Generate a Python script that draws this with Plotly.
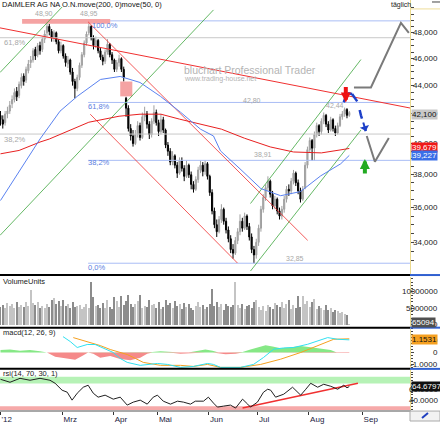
import math
import numpy as np
import plotly.graph_objects as go

# ---------------- data ----------------
day_index = list(range(151))
opens = [41.9,41.6,41.4,42.0,42.2,42.7,43.0,43.6,43.3,44.0,44.7,44.4,45.1,45.7,45.9,46.7,46.3,47.0,46.7,47.5,
         48.0,48.5,48.1,47.6,48.0,47.3,46.6,47.0,46.2,45.6,45.9,45.0,44.3,43.8,44.6,45.5,46.3,47.2,48.0,48.5,
         47.6,47.0,47.4,46.6,46.1,45.8,46.5,47.1,46.3,45.9,45.2,45.7,46.0,45.2,43.1,42.4,41.0,40.5,40.0,40.6,
         41.2,40.4,41.8,42.0,41.3,40.6,41.5,42.1,41.4,40.8,41.6,40.9,39.9,39.5,38.8,39.2,38.6,38.1,38.9,38.4,
         37.9,38.6,38.0,37.4,37.1,37.7,38.3,38.6,38.2,38.7,37.9,36.9,35.8,35.0,34.6,35.3,35.9,35.2,34.7,34.2,
         33.6,33.4,34.1,34.6,35.2,34.8,35.5,34.9,34.3,33.6,33.3,34.0,34.8,35.9,36.6,37.2,37.6,36.8,36.1,36.5,
         35.8,35.5,35.9,36.5,37.1,37.0,37.6,38.1,37.5,37.0,36.5,37.2,38.6,39.6,40.2,39.7,40.6,41.2,40.8,41.5,
         41.9,41.3,40.9,41.6,41.0,40.7,41.2,41.8,42.0,42.3,41.9]
highs = [42.2,41.9,42.2,42.5,42.9,43.3,43.8,43.9,44.3,44.9,44.9,45.4,45.9,46.2,46.8,46.9,47.2,47.3,47.7,48.2,
         48.9,48.7,48.3,48.2,48.1,47.5,47.3,47.1,46.4,46.2,46.0,45.3,44.5,44.8,45.7,46.5,47.4,48.1,48.95,48.6,
         47.8,47.7,47.5,46.8,46.3,46.7,47.5,47.2,46.5,46.0,45.9,46.3,46.1,45.4,43.2,42.6,41.3,40.9,40.9,41.5,
         41.4,42.1,42.5,42.2,41.5,41.7,42.6,42.3,41.6,42.0,41.8,41.0,40.1,39.7,39.5,39.3,38.8,39.1,39.1,38.6,
         38.9,38.7,38.2,37.6,37.9,38.5,38.9,38.8,38.9,38.8,38.0,37.1,36.0,35.3,35.5,36.2,36.0,35.4,34.9,34.4,
         33.9,34.3,34.8,35.6,35.4,35.7,35.6,35.1,34.5,33.8,34.2,35.0,36.1,36.8,37.4,37.9,37.7,37.0,36.7,36.6,
         36.0,36.1,36.7,37.3,37.4,37.8,38.3,38.2,37.7,37.2,37.3,38.8,39.8,40.4,40.3,40.8,41.4,41.3,41.7,42.1,
         42.0,41.5,41.8,41.7,41.2,41.4,42.0,42.2,42.44,42.4,42.2]
lows = [41.2,41.0,41.2,41.7,42.0,42.4,42.8,42.9,43.1,43.8,44.0,44.2,44.9,45.3,45.7,45.9,46.1,46.3,46.5,47.2,
        47.7,47.8,47.3,47.3,47.1,46.4,46.4,46.0,45.4,45.3,44.8,44.0,43.1,43.6,44.4,45.3,46.1,47.0,47.8,47.4,
        46.7,46.8,46.4,45.9,45.5,45.6,46.3,46.1,45.6,45.0,45.0,45.4,45.0,44.3,41.8,40.8,40.2,39.8,39.9,40.4,
        40.2,40.3,41.5,41.0,40.3,40.4,41.3,41.2,40.5,40.6,40.7,39.7,39.2,38.6,38.6,38.4,37.8,38.0,38.2,37.6,
        37.8,37.8,37.1,36.9,37.0,37.5,38.1,37.9,38.0,37.7,36.7,35.6,34.8,34.3,34.5,35.1,35.0,34.5,34.0,33.4,
        33.1,33.3,33.9,34.4,34.6,34.7,34.7,34.1,33.4,32.85,33.1,33.8,34.6,35.7,36.4,37.0,36.6,35.9,35.9,35.6,
        35.3,35.3,35.7,36.3,36.7,36.8,37.4,37.3,36.8,36.3,36.4,37.1,38.4,39.4,38.9,38.9,40.4,40.5,40.6,41.3,
        41.1,40.7,40.8,40.8,40.5,40.6,41.1,41.6,41.8,41.7,41.8]
closes = [41.6,41.3,42.0,42.2,42.6,43.0,43.5,43.2,44.1,44.6,44.3,45.2,45.6,45.9,46.6,46.2,47.0,46.6,47.5,47.9,
          48.5,48.1,47.6,48.0,47.3,46.6,47.0,46.2,45.7,45.9,45.0,44.3,43.8,44.6,45.5,46.3,47.2,47.9,48.5,47.6,
          47.0,47.4,46.6,46.1,45.8,46.5,47.1,46.3,45.9,45.2,45.7,46.0,45.2,44.6,42.4,41.0,40.5,40.0,40.6,41.2,
          40.4,41.8,42.0,41.3,40.6,41.5,42.1,41.4,40.8,41.6,40.9,39.9,39.5,38.8,39.2,38.6,38.1,38.9,38.4,37.9,
          38.6,38.0,37.4,37.1,37.7,38.3,38.6,38.2,38.7,37.9,36.9,35.8,35.0,34.6,35.3,35.9,35.2,34.7,34.2,33.6,
          33.4,34.1,34.6,35.2,34.8,35.5,34.9,34.3,33.6,33.3,34.0,34.8,35.9,36.6,37.2,37.6,36.8,36.1,36.5,35.8,
          35.5,35.9,36.5,37.1,37.0,37.6,38.1,37.5,37.0,36.5,37.1,38.6,39.6,40.2,39.7,40.6,41.2,40.8,41.5,41.9,
          41.3,40.9,41.6,41.0,40.7,41.2,41.8,42.0,42.3,41.9,42.1]
volume_mio = [5.5,6.0,5.2,6.5,5.8,6.2, 5.0,6.8,5.5,6.1,5.3,7.0,5.8, 10.5, 6.5,5.9,6.8,5.2,5.6,5.0,6.3,
              5.5,7.6,8.0,6.2,7.2,5.7,7.4, 5.8,6.3,5.2,6.9,5.3,5.8, 6.0,4.9,5.5,6.4,5.0, 13.0,
              8.3,5.6,6.0,5.1,6.6, 5.0,7.4,5.4,4.9,8.4,7.2, 5.3,8.6,6.0,7.1,9.0, 6.4,5.4,6.2,7.3,9.2,
              5.1,5.6,5.3,7.4,5.9,6.3, 5.2,6.8,4.8,5.5,7.6,6.0, 6.5,5.0,7.2,5.7,6.4,4.9,
              6.6,5.5,6.2,5.2,4.6,5.8, 6.9,5.4,6.1,4.9,5.3,6.4, 11.0, 5.6,6.8,5.5,6.4,4.6,
              6.2,5.7,5.3,6.0, 13.0, 6.0,5.2,6.4,4.9,5.6,6.1,5.0, 6.8,7.4,5.3,4.5,5.8,4.3,6.1,
              5.5,4.8,6.6,5.9,5.4,7.0,5.1, 6.3,7.6,4.7,6.0,5.2, 8.6, 5.3,8.7,6.4, 7.1,5.4,6.9,7.8,4.9,5.6,
              5.2,4.5,6.0,4.4,5.0,3.8,4.6, 4.2,3.5,4.0,3.3,3.1, 0.065]

ma200_idx = [0, 8, 17, 21, 38, 51, 60, 69, 77, 86, 95, 105, 116, 126, 138, 146, 150]
ma200_val = [39.33, 39.55, 40.10, 40.30, 41.43, 41.84, 41.98, 41.98, 41.64, 41.30, 40.96, 40.35, 39.78, 39.45, 39.39, 39.58, 39.68]
ma50_idx = [0, 8.4, 17, 25.6, 33, 43, 51.5, 60, 68.8, 77.4, 86, 91.6, 94.6, 103, 112, 120.5, 129, 137.7, 146.3, 150]
ma50_val = [36.42, 38.31, 40.30, 42.19, 43.23, 44.45, 44.67, 44.23, 43.23, 42.12, 40.96, 40.50, 39.52, 38.37, 37.14, 36.71, 36.96, 37.93, 38.69, 39.23]

macd_idx = [26.9, 30, 33, 37.3, 40.7, 45, 48.5, 51.5, 54.5, 60.1, 64.4, 67.5, 71.8, 77.4, 83, 89, 91.6, 94.6, 103.2,
            108.8, 113.1, 117.5, 121.8, 126.1, 132.1, 136.4, 140.7, 145, 150]
macd_val = [1.33, 0.92, 0.42, 0.67, 0.67, 0.33, 0.0, -0.5, -0.83, -1.08, -1.0, -0.92, -1.0, -1.25, -1.17, -0.92, -1.0,
            -1.25, -1.25, -1.0, -0.42, 0.28, 0.38, 0.42, 0.69, 1.0, 1.25, 1.11, 1.06]
signal_idx = [31.3, 34.3, 38.6, 42.9, 47.2, 51.5, 54.5, 58, 61.4, 68.8, 77.4, 83, 89, 94.6, 103.2, 111.9, 120.5, 129.1,
              136.4, 143.3, 150]
signal_val = [1.25, 1.08, 0.83, 0.58, 0.25, 0.0, -0.17, -0.5, -0.83, -1.08, -1.08, -1.17, -1.0, -1.25, -1.25, -1.0,
              -0.56, 0.0, 0.58, 1.11, 1.15]
hist_idx = [0, 4.1, 8.4, 12.7, 17, 20, 23.5, 27.8, 32.1, 35.1, 37.7, 39.9, 42.9, 47.2, 51.5, 55.8, 60.1, 63.1, 65.3,
            68.8, 72.2, 74.4, 77.4, 80.8, 83.8, 88.1, 91.2, 93.8, 96.8, 101.1, 104.1, 107.5, 111, 114, 117, 120.5,
            124.8, 129.1, 133.4, 137.7, 142, 144.6, 147.2, 150]
hist_val = [0.2, 0.25, 0.15, 0.2, 0.1, 0.0, -0.35, -0.45, -0.6, -0.3, 0.0, -0.1, -0.45, -0.3, -0.55, -0.65, -0.45, -0.1,
            0.05, 0.1, 0.05, -0.05, -0.1, -0.05, 0.1, 0.25, 0.15, -0.05, -0.15, -0.1, 0.05, 0.25, 0.45, 0.6, 0.5,
            0.35, 0.45, 0.55, 0.45, 0.35, 0.2, 0.0, -0.05, -0.05]

rsi_idx = [0, 4.1, 8.4, 12.7, 17, 21.3, 23.5, 26.5, 28.7, 30.8, 33, 35.6, 37.7, 39.9, 42, 45, 48.5, 51.5, 54.5, 57.1,
           60.1, 63.1, 65.7, 67.5, 70, 73.1, 76.1, 78.7, 81.7, 83.8, 87.3, 89.4, 91.6, 93.3, 95.9, 98.9, 101.1, 103.2,
           104.1, 106.3, 107.5, 110.5, 113.1, 114.9, 116.2, 118.3, 121.8, 125.6, 129.1, 131.3, 133.4, 136.4, 139,
           142, 145, 147.6, 149, 150]
rsi_val = [77.4, 72.2, 79.1, 75.7, 79.1, 75.7, 70.4, 58.3, 54.8, 40.9, 53.0, 63.5, 67.0, 53.0, 46.1, 49.6, 42.6, 46.1,
           32.2, 37.4, 40.9, 33.9, 46.1, 49.6, 39.1, 33.9, 39.1, 37.4, 33.9, 39.1, 39.1, 46.1, 35.7, 28.7, 30.4, 32.2,
           27.0, 37.4, 42.6, 33.9, 28.7, 37.4, 54.8, 60.0, 58.3, 46.1, 51.3, 63.5, 49.6, 60.0, 70.4, 63.5, 68.7, 65.2,
           60.0, 67.0, 62.5, 64.68]

# drawings (trend lines, fibonacci, projections) as (index, price) pairs
red_trend_idx, red_trend_val = [-0.2, 176.1], [48.39, 42.41]
red_ch_up_idx, red_ch_up_val = [37.7, 132.1], [48.87, 34.11]
red_ch_lo_idx, red_ch_lo_val = [38.6, 101.9], [41.98, 32.86]
green_long_idx, green_long_val = [-0.2, 91.6], [34.39, 49.84]
green_left_idx, green_left_val = [-0.2, 26.5], [44.96, 50.08]
green_up_idx, green_up_val = [107.5, 155], [36.24, 45.93]
green_lo_idx, green_lo_val = [107.5, 155], [32.43, 40.90]
fib_blue_levels = [48.95, 42.80, 38.91, 32.85]
fib_blue_labels = ["100,0%", "61,8%", "38,2%", "0,0%"]
fib_blue_start = 37.7
fib_gray_levels = [47.61, 40.63]
fib_gray_labels = ["61,8%", "38,2%"]
price_notes = ["48,90", "48,95", "42,80", "42,44", "38,91", "32,85"]
zone1_idx, zone1_val = [9.3, 47.2], [48.71, 49.11]
zone2_idx, zone2_val = [51.5, 56.7], [43.23, 44.30]
proj_solid_idx = [147.6, 148.5, 149.8, 151.2]
proj_solid_val = [42.81, 43.2, 43.45, 43.4]
proj_dash_idx = [151.2, 152.5, 153.7, 155, 156.2, 157.1]
proj_dash_val = [43.4, 43.1, 42.8, 41.9, 41.3, 40.83]
zig_idx, zig_val = [152, 159.3, 172.2, 175.6], [43.87, 43.87, 48.79, 48.0]
vee_idx, vee_val = [157.5, 161, 167], [40.5, 38.82, 40.37]
red_arrow_idx, red_arrow_val = 148.5, 42.8
green_arrow_idx, green_arrow_val = 156.7, 39.0

rsi_trend_idx, rsi_trend_val = [104.1, 153.7], [27.0, 70.4]

month_ticks = [-0.2, 26.5, 48.5, 67.5, 89.5, 110.5, 132.5, 155.5]
month_labels = ["'12", "Mrz", "Apr", "Mai", "Jun", "Jul", "Aug", "Sep"]
price_ticks = [34, 36, 38, 40, 42, 44, 46, 48]
price_tick_labels = ["34,000", "36,000", "38,000", "40,000", "42,000", "44,000", "46,000", "48,000"]
volume_ticks, volume_tick_labels = [0, 5, 10], ["0", "5000000", "10000000"]
macd_ticks, macd_tick_labels = [-1, 0, 1], ["-1.0000", "0", "1.0000"]
rsi_ticks, rsi_tick_labels = [40, 60], ["40.0000", "60.0000"]
last_close, last_ma200, last_ma50 = "42,100", "39,679", "39,227"
last_volume, last_signal, last_rsi = "65094", "1.1531", "64.6797"

# ---------------- layout helpers ----------------
W, H = 440, 424
XR = 410 / W
FONT = "Liberation Sans, Arial, sans-serif"


def py(p):
    return 1 - p / H


def px(p):
    return p / W


fig = go.Figure()


def line(xs, ys, color, width=1, dash=None, yaxis='y'):
    fig.add_trace(go.Scatter(x=xs, y=ys, mode='lines', yaxis=yaxis,
                             line=dict(color=color, width=width, dash=dash),
                             hoverinfo='skip', showlegend=False))


# gray fibonacci
for lv in fib_gray_levels:
    line([-0.2, 176.1], [lv, lv], '#c8c8c8', 1)
# blue fibonacci
for lv in fib_blue_levels:
    line([fib_blue_start, 176.1], [lv, lv], '#a9bdf5', 1)

# pink zones
for zx, zv in [(zone1_idx, zone1_val), (zone2_idx, zone2_val)]:
    fig.add_trace(go.Scatter(x=[zx[0], zx[1], zx[1], zx[0], zx[0]], y=[zv[0], zv[0], zv[1], zv[1], zv[0]],
                             fill='toself', fillcolor='#f5a3a3', line=dict(width=0), mode='lines',
                             hoverinfo='skip', showlegend=False))

line(green_long_idx, green_long_val, '#3da63d', 0.8)
line(green_left_idx, green_left_val, '#3da63d', 0.8)
line(green_up_idx, green_up_val, '#3da63d', 0.8)
line(green_lo_idx, green_lo_val, '#3da63d', 0.8)
line(red_trend_idx, red_trend_val, '#f03030', 1)
line(red_ch_up_idx, red_ch_up_val, '#f03030', 0.8)
line(red_ch_lo_idx, red_ch_lo_val, '#f03030', 0.8)

line(ma200_idx, ma200_val, '#e82020', 1)
line(ma50_idx, ma50_val, '#5a82f0', 1)

fig.add_trace(go.Candlestick(
    x=day_index, open=opens, high=highs, low=lows, close=closes,
    increasing=dict(line=dict(color='#a0a0a0', width=1), fillcolor='#aaaaaa'),
    decreasing=dict(line=dict(color='#000000', width=1), fillcolor='#000000'),
    whiskerwidth=0, hoverinfo='skip', showlegend=False))

# projections
line(zig_idx, zig_val, '#7a7a7a', 2)
line(vee_idx, vee_val, '#7a7a7a', 2)
line(proj_solid_idx, proj_solid_val, '#1c3fc8', 2.5)
line(proj_dash_idx, proj_dash_val, '#1c3fc8', 2.5, dash='dash')

# volume
vol_colors = ['#c4c4c4' if c >= o else '#8c8c8c' for o, c in zip(opens, closes)]
fig.add_trace(go.Bar(x=day_index, y=volume_mio, yaxis='y2', marker=dict(color=vol_colors, line=dict(width=0)),
                     width=0.45, hoverinfo='skip', showlegend=False))

# macd
hv = np.array(hist_val)
fig.add_trace(go.Scatter(x=hist_idx, y=np.clip(hv, 0, None), yaxis='y3', mode='lines', fill='tozeroy',
                         fillcolor='#86e886', line=dict(width=0), hoverinfo='skip', showlegend=False))
fig.add_trace(go.Scatter(x=hist_idx, y=np.clip(hv, None, 0), yaxis='y3', mode='lines', fill='tozeroy',
                         fillcolor='#f58a8a', line=dict(width=0), hoverinfo='skip', showlegend=False))
line(signal_idx, signal_val, '#f5a020', 1, yaxis='y3')
line(macd_idx, macd_val, '#30e0f0', 1, yaxis='y3')

# rsi
line(rsi_trend_idx, rsi_trend_val, '#f03030', 1.5, yaxis='y4')
line(rsi_idx, rsi_val, '#202020', 1, yaxis='y4')

shapes = []
# rsi bands
shapes.append(dict(type='rect', xref='x domain', yref='y4', x0=0, x1=1, y0=70, y1=82,
                   fillcolor='#b6f2b6', line=dict(width=0), layer='below'))
shapes.append(dict(type='rect', xref='x domain', yref='y4', x0=0, x1=1, y0=23.48, y1=30,
                   fillcolor='#f6a9a9', line=dict(width=0), layer='below'))
# panel separators
for yy in [277, 330, 371.5]:
    shapes.append(dict(type='line', xref='paper', yref='paper', x0=0, x1=XR, y0=py(yy), y1=py(yy),
                       line=dict(color='#000000', width=2)))
    shapes.append(dict(type='line', xref='paper', yref='paper', x0=XR, x1=1, y0=py(yy), y1=py(yy),
                       line=dict(color='#3060d0', width=2)))
# top header line / right box
shapes.append(dict(type='line', xref='paper', yref='paper', x0=px(410), x1=1, y0=py(9), y1=py(9),
                   line=dict(color='#eedd99', width=1)))
shapes.append(dict(type='line', xref='paper', yref='paper', x0=px(432), x1=1, y0=py(2), y1=py(2),
                   line=dict(color='#444', width=1)))
# bottom icon box
shapes.append(dict(type='rect', xref='paper', yref='paper', x0=px(410), x1=1, y0=0, y1=py(414),
                   fillcolor='#f2f2f2', line=dict(color='#aaaaaa', width=1)))
shapes.append(dict(type='line', xref='paper', yref='paper', x0=px(422), x1=px(428), y0=py(421), y1=py(416),
                   line=dict(color='#2040c0', width=2)))

ann = []


def text(s, x, y, color='#222', size=8, xanchor='left', bg=None, fcolor=None):
    ann.append(dict(text=s, xref='paper', yref='paper', x=px(x), y=py(y), xanchor=xanchor, yanchor='middle',
                    showarrow=False, font=dict(family=FONT, size=size, color=fcolor or color),
                    bgcolor=bg, borderpad=0))


text("DAIMLER AG NA O.N.move(200, 0)move(50, 0)", 1, 4.5, '#111', 7.5)
text("täglich", 390, 5, '#222', 7)
text("VolumeUnits", 2, 284, '#222', 7.5)
text("macd(12, 26, 9)", 2, 335, '#222', 7.5)
text("rsi(14, 70, 30, 1)", 2, 376.5, '#222', 7.5)
text("bluchart Professional Trader", 183, 70, '#b4b4b4', 10.5)
text("www.trading-house.net", 183, 80, '#b4b4b4', 7)

note_pos = [(34, 14), (79, 13.5), (242, 101), (325, 106), (253, 156), (285, 260)]
for s, (xx, yy) in zip(price_notes, note_pos):
    text(s, xx, yy, '#a8a8a8', 7)
blue_lab_pos = [(91, 26), (87, 107), (87, 164), (87, 269)]
for s, (xx, yy) in zip(fib_blue_labels, blue_lab_pos):
    text(s, xx, yy, '#5a7ee0', 7.5)
gray_lab_pos = [(3, 43), (3, 140)]
for s, (xx, yy) in zip(fib_gray_labels, gray_lab_pos):
    text(s, xx, yy, '#a8a8a8', 7.5)

# right-aligned axis labels (drawn before the value boxes, which cover some of them)
tick_font = dict(family=FONT, size=8, color='#222')
for v, s in zip(price_ticks, price_tick_labels):
    ann.append(dict(text=s, xref='paper', yref='y', x=1, y=math.log10(v), xanchor='right', yanchor='middle',
                    showarrow=False, font=tick_font))
for ax_name, vals, labs in [('y2', volume_ticks, volume_tick_labels), ('y3', macd_ticks, macd_tick_labels),
                            ('y4', rsi_ticks, rsi_tick_labels)]:
    for v, s in zip(vals, labs):
        ann.append(dict(text=s, xref='paper', yref=ax_name, x=1, y=v, xanchor='right', yanchor='middle',
                        showarrow=False, font=tick_font))

# value boxes on the right axis
text(last_close, 410.5, 115.5, bg='#c8c8c8', fcolor='#111', size=8)
text(last_ma200, 410.5, 148.5, bg='#f01818', fcolor='#ffffff', size=8)
text(last_ma50, 410.5, 156.5, bg='#3a6ee8', fcolor='#ffffff', size=8)
text(last_volume, 410.5, 324.5, bg='#505050', fcolor='#ffffff', size=8)
text(last_signal, 410.5, 341.5, bg='#f5a020', fcolor='#111', size=8)
text(last_rsi, 410.5, 389, bg='#101010', fcolor='#ffffff', size=8)

# arrows (tiny empty text box so the shaft keeps its full length)
ann.append(dict(x=red_arrow_idx, y=math.log10(red_arrow_val), xref='x', yref='y', ax=0, ay=-17, text='',
                font=dict(size=1), showarrow=True, arrowhead=2, arrowsize=0.5, arrowwidth=4,
                arrowcolor='#ee1111'))
ann.append(dict(x=green_arrow_idx, y=math.log10(green_arrow_val), xref='x', yref='y', ax=0, ay=16, text='',
                font=dict(size=1), showarrow=True, arrowhead=2, arrowsize=0.5, arrowwidth=4,
                arrowcolor='#22aa22'))
ann.append(dict(x=proj_dash_idx[-1], y=math.log10(proj_dash_val[-1]), xref='x', yref='y', ax=-3, ay=-10,
                text='', font=dict(size=1), showarrow=True, arrowhead=1, arrowsize=0.8, arrowwidth=2,
                arrowcolor='#1c3fc8'))

price_tickvals = [v / 2 for v in range(66, 101)]

axis_common = dict(side='right', anchor='x', showgrid=False, zeroline=False, showline=True,
                   linecolor='#ead98f', linewidth=1, ticks='outside', ticklen=3, tickcolor='#444',
                   showticklabels=False, fixedrange=True)

fig.update_layout(
    width=W, height=H, margin=dict(l=0, r=0, t=0, b=0),
    paper_bgcolor='white', plot_bgcolor='white', showlegend=False, bargap=0,
    font=dict(family=FONT, size=8),
    xaxis=dict(domain=[0, XR], range=[-0.2, 176.1], anchor='y4', showgrid=False, zeroline=False,
               tickvals=month_ticks, ticktext=month_labels, ticks='outside', ticklen=3, tickcolor='#333',
               ticklabelposition='outside right', tickfont=dict(family=FONT, size=8, color='#1a1a40'),
               showline=True, linecolor='#a8a8a8', linewidth=2, rangeslider=dict(visible=False)),
    yaxis=dict(domain=[py(276), py(0)], type='log', range=[math.log10(32.27), math.log10(50.66)],
               tickvals=price_tickvals, **axis_common),
    yaxis2=dict(domain=[py(330), py(279)], range=[-0.91, 14.55], tickvals=volume_ticks,
                minor=dict(ticks='outside', ticklen=2, dtick=1, tickcolor='#444'), **axis_common),
    yaxis3=dict(domain=[py(371), py(331)], range=[-1.333, 2.0], tickvals=macd_ticks,
                minor=dict(ticks='outside', ticklen=2, dtick=0.25, tickcolor='#444'), **axis_common),
    yaxis4=dict(domain=[py(413), py(372)], range=[23.48, 94.78], tickvals=rsi_ticks,
                minor=dict(ticks='outside', ticklen=2, dtick=5, tickcolor='#444'), **axis_common),
    shapes=shapes, annotations=ann,
)

fig.write_html("out.html")
